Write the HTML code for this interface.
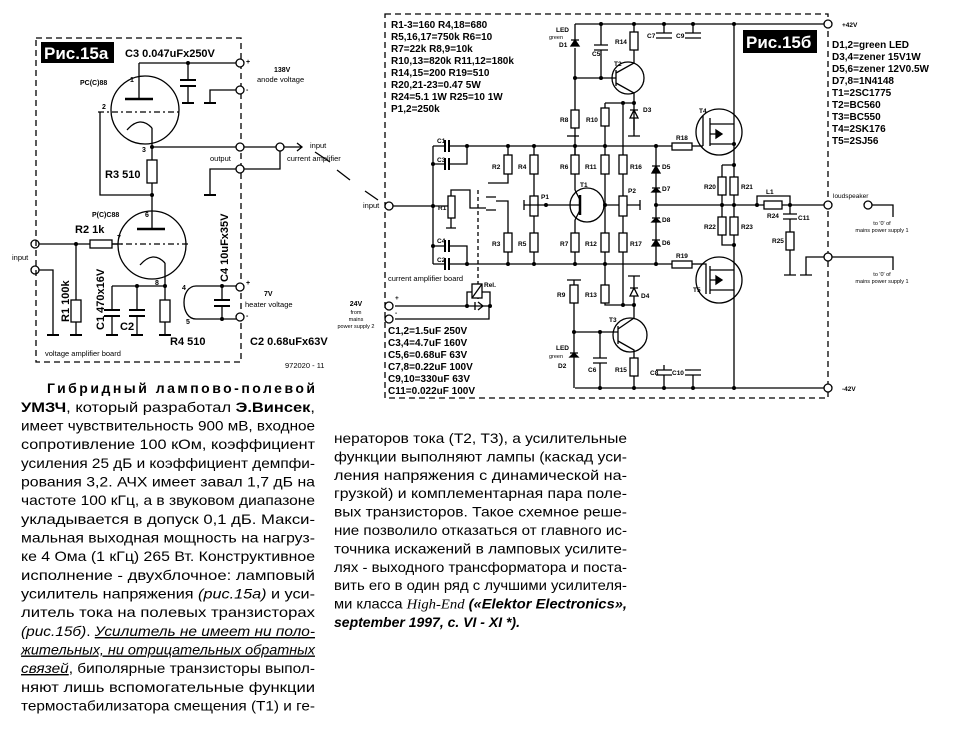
<!DOCTYPE html>
<html><head><meta charset="utf-8">
<style>
html,body{margin:0;padding:0;background:#fff;}
body{width:968px;height:742px;position:relative;overflow:hidden;}
svg{position:absolute;left:0;top:0;}
.t{font-family:"Liberation Sans",sans-serif;}
.b{font-family:"Liberation Sans",sans-serif;font-weight:bold;}
</style></head><body>
<svg width="968" height="742" viewBox="0 0 968 742" xmlns="http://www.w3.org/2000/svg" font-family="Liberation Sans, DejaVu Sans, sans-serif">
<g fill="none" stroke="#000" stroke-width="1.3">
<!-- ===== Fig 15a ===== -->
<rect x="36" y="38" width="205" height="324" stroke-dasharray="6,4"/>
<circle cx="145" cy="110" r="34"/>
<line x1="139" y1="63" x2="139" y2="99"/>
<line x1="125" y1="99" x2="153" y2="99" stroke-width="2.5"/>
<line x1="98" y1="112" x2="180" y2="112" stroke-dasharray="6,3,2,3"/>
<path d="M127 130 Q140 115 152 128"/>
<line x1="152" y1="128" x2="152" y2="195"/>
<line x1="139" y1="63" x2="236" y2="63"/>
<line x1="188" y1="63" x2="188" y2="80"/><line x1="180" y1="80" x2="196" y2="80" stroke-width="2"/><line x1="180" y1="86" x2="196" y2="86" stroke-width="2"/><line x1="188" y1="86" x2="188" y2="103"/><line x1="182" y1="103" x2="194" y2="103" stroke-width="2"/>
<path d="M236 90 H210 V103"/><line x1="204" y1="103" x2="216" y2="103" stroke-width="2"/>
<line x1="152" y1="147" x2="236" y2="147"/>
<rect x="147" y="160" width="10" height="23" fill="#fff"/>
<path d="M100 112 V195 H152"/>
<path d="M236 169 H210 V195"/><line x1="204" y1="195" x2="216" y2="195" stroke-width="2"/>
<path d="M244 147 H276"/><circle cx="280" cy="147" r="4"/><path d="M284 147 H302 M297 143 L302 147 L297 151"/>
<path d="M244 169 H280 V151"/>
<path d="M315 152 L330 162 M337 170 L350 180 M365 191 L378 200"/>
<line x1="152" y1="195" x2="152" y2="229"/>
<circle cx="152" cy="245" r="34"/>
<line x1="137" y1="229" x2="165" y2="229" stroke-width="2.5"/>
<line x1="112" y1="244" x2="190" y2="244" stroke-dasharray="6,3,2,3"/>
<path d="M140 265 Q153 250 165 263"/>
<line x1="165" y1="263" x2="165" y2="300"/>
<circle cx="35" cy="244" r="4"/><circle cx="35" cy="270" r="4"/>
<line x1="39" y1="244" x2="90" y2="244"/>
<rect x="90" y="240" width="22" height="8" fill="#fff"/>
<line x1="112" y1="244" x2="122" y2="244"/>
<line x1="76" y1="244" x2="76" y2="300"/><rect x="71" y="300" width="10" height="22" fill="#fff"/><line x1="76" y1="322" x2="76" y2="335"/>
<path d="M39 270 H53 V335"/>
<path d="M112 286 H165"/>
<line x1="112" y1="286" x2="112" y2="310"/><line x1="104" y1="310" x2="120" y2="310" stroke-width="2"/><path d="M104 316 H120" stroke-width="2"/><line x1="112" y1="316" x2="112" y2="335"/>
<line x1="137" y1="286" x2="137" y2="310"/><line x1="129" y1="310" x2="145" y2="310" stroke-width="2"/><line x1="129" y1="316" x2="145" y2="316" stroke-width="2"/><line x1="137" y1="316" x2="137" y2="335"/>
<rect x="160" y="300" width="10" height="22" fill="#fff"/><line x1="165" y1="322" x2="165" y2="335"/>
<g stroke-width="2"><path d="M47 335 H59 M70 335 H82 M106 335 H118 M131 335 H143 M159 335 H171"/></g>
<path d="M196 286 C180 286 180 319 196 319"/>
<path d="M196 286 H236 M196 319 H236"/>
<line x1="222" y1="286" x2="222" y2="300"/><line x1="214" y1="300" x2="230" y2="300" stroke-width="2"/><line x1="214" y1="306" x2="230" y2="306" stroke-width="2"/><line x1="222" y1="306" x2="222" y2="319"/>
<circle cx="240" cy="63" r="4" fill="#fff"/><circle cx="240" cy="90" r="4" fill="#fff"/><circle cx="240" cy="147" r="4" fill="#fff"/><circle cx="240" cy="169" r="4" fill="#fff"/><circle cx="240" cy="287" r="4" fill="#fff"/><circle cx="240" cy="317" r="4" fill="#fff"/>

<!-- ===== Fig 15b ===== -->
<rect x="385" y="14" width="443" height="384" stroke-dasharray="6,4"/>
<line x1="575" y1="24" x2="824" y2="24"/>
<line x1="575" y1="388" x2="824" y2="388"/>
<line x1="734" y1="24" x2="734" y2="388"/>
<line x1="389" y1="206" x2="433" y2="206"/>
<line x1="433" y1="146" x2="433" y2="264"/>
<path d="M433 146 H445 M449 146 H655"/><path d="M445 140 V152 M449 140 V152" stroke-width="2"/>
<path d="M433 164 H445 M449 164 H467 V146"/><path d="M445 158 V170 M449 158 V170" stroke-width="2"/>
<path d="M433 246 H445 M449 246 H467 V264"/><path d="M445 240 V252 M449 240 V252" stroke-width="2"/>
<path d="M433 264 H445 M449 264 H655"/><path d="M445 258 V270 M449 258 V270" stroke-width="2"/>
<path d="M433 206 H450"/><rect x="448" y="196" width="7" height="22" fill="#fff"/><path d="M451 218 V228 M446 228 H456"/>
<path d="M451 196 V190 H470 V208 H486"/><path d="M486 197 H496 M486 210 H496"/>
<path d="M508 146 V155"/><rect x="504" y="155" width="8" height="19" fill="#fff"/><path d="M508 174 V183 H488"/>
<path d="M496 201 H508 V233"/><rect x="504" y="233" width="8" height="19" fill="#fff"/><path d="M508 252 V264"/>
<path d="M478 190 V300" stroke-dasharray="4,3"/>
<line x1="534" y1="146" x2="534" y2="155"/><rect x="530" y="155" width="8" height="19" fill="#fff"/>
<line x1="534" y1="174" x2="534" y2="233"/><rect x="530" y="196" width="8" height="20" fill="#fff"/><path d="M524 205 H546 M524 200 V210"/>
<rect x="530" y="233" width="8" height="19" fill="#fff"/><line x1="534" y1="252" x2="534" y2="264"/>
<circle cx="587" cy="205" r="17"/>
<line x1="546" y1="205" x2="580" y2="205"/><line x1="580" y1="195" x2="580" y2="215" stroke-width="2.5"/>
<path d="M580 200 L575 190 M580 210 L575 220"/>
<path d="M575 146 V155"/><rect x="571" y="155" width="8" height="19" fill="#fff"/><path d="M575 174 V190"/>
<path d="M575 220 V233"/><rect x="571" y="233" width="8" height="19" fill="#fff"/><path d="M575 252 V264"/>
<path d="M605 146 V155"/><rect x="601" y="155" width="8" height="19" fill="#fff"/><path d="M605 174 V233"/><rect x="601" y="233" width="8" height="19" fill="#fff"/><path d="M605 252 V264"/>
<path d="M605 205 H640 M640 200 V210"/>
<path d="M623 105 V155"/><rect x="619" y="155" width="8" height="19" fill="#fff"/><path d="M623 174 V233"/><rect x="619" y="196" width="8" height="20" fill="#fff"/><rect x="619" y="233" width="8" height="19" fill="#fff"/><path d="M623 252 V305"/>
<path d="M656 146 V264"/>
<path d="M652 166 H660 M652 173 L656 166 L660 173 Z M652 188 H660 M652 192 L656 188 L660 192Z M652 218 H660 M652 222 L656 218 L660 222Z M652 240 H660 M652 246 L656 240 L660 246Z" fill="#000"/>
<path d="M656 205 H824"/>
<path d="M655 146 H672"/><rect x="672" y="143" width="20" height="7" fill="#fff"/><path d="M692 146 H703"/>
<path d="M655 264 H672"/><rect x="672" y="261" width="20" height="7" fill="#fff"/><path d="M692 264 H703"/>
<circle cx="719" cy="132" r="23"/>
<path d="M703 146 V116 M710 118 V146 M710 124 H734 M710 144 H734 M710 134 H722"/>
<path d="M716 130 L722 134 L716 138 Z" fill="#000"/>
<circle cx="719" cy="280" r="23"/>
<path d="M703 264 H706 V294 M710 266 V294 M710 270 H734 M710 290 H734 M710 280 H722"/>
<path d="M716 276 L722 280 L716 284 Z" fill="#000"/>
<path d="M722 165 H734 M722 165 V177 M722 195 V217 M722 235 V245 H734"/>
<rect x="718" y="177" width="8" height="18" fill="#fff"/><rect x="730" y="177" width="8" height="18" fill="#fff"/>
<rect x="718" y="217" width="8" height="18" fill="#fff"/><rect x="730" y="217" width="8" height="18" fill="#fff"/>
<path d="M757 205 V196 H790 V205"/><rect x="764" y="201" width="18" height="8" fill="#fff"/>
<path d="M790 205 V214 M783 214 H797 M783 219 H797 M790 219 V232"/><rect x="786" y="232" width="8" height="18" fill="#fff"/><path d="M790 250 V275 M784 275 H796"/>
<path d="M824 257 H806 V275 M800 275 H812"/>
<path d="M872 205 H893 V217 M832 257 H893 V270"/>
<path d="M575 24 V40 M575 48 V155"/><path d="M571 40 H579 M571 46 L575 40 L579 46 Z" fill="#000"/>
<path d="M601 24 V45 M594 45 H608 M594 50 H608 M601 50 V78"/>
<path d="M575 78 H616"/>
<circle cx="628" cy="78" r="16"/><path d="M616 70 V86 M616 73 L634 63 V24 M616 83 L634 93 V103 M634 103 V130"/>
<rect x="630" y="32" width="8" height="18" fill="#fff"/>
<path d="M605 103 H634 M605 103 V108"/><rect x="601" y="108" width="8" height="18" fill="#fff"/><path d="M605 126 V146"/>
<path d="M630 110 H638 M630 118 L634 110 L638 118 Z M634 118 V136 M628 136 H640"/>
<rect x="571" y="110" width="8" height="18" fill="#fff"/><path d="M567 136 H579"/>
<path d="M664 24 V33 M656 33 H672 M656 38 H672 M693 24 V33 M685 33 H701 M685 38 H701"/>
<path d="M567 280 H581 M574 280 V285"/><rect x="570" y="285" width="8" height="18" fill="#fff"/><path d="M574 303 V388"/>
<path d="M570 353 H578 M570 357 L574 353 L578 357Z" fill="#000"/>
<path d="M574 332 H618"/>
<path d="M600 332 V358 M593 358 H607 M593 363 H607 M600 363 V388"/>
<circle cx="630" cy="335" r="17"/><path d="M618 326 V344 M618 329 L634 318 V305 M618 341 L634 350 V358"/>
<path d="M605 264 V285"/><rect x="601" y="285" width="8" height="18" fill="#fff"/><path d="M605 303 V305 H634"/>
<path d="M628 276 H640 M634 276 V288 M630 288 H638 M630 296 L634 288 L638 296 Z M634 296 V305"/>
<rect x="630" y="358" width="8" height="18" fill="#fff"/><path d="M634 376 V388"/>
<path d="M664 388 V375 M656 375 H672 M656 370 H672 M664 370 V365 M693 388 V375 M685 375 H701 M685 370 H701"/>
<path d="M395 306 H478 H490 M395 319 H489 V306"/>
<path d="M467 306 V292 H490 V306"/><rect x="472" y="284" width="10" height="14" fill="#fff"/><path d="M472 298 L482 284"/>
<path d="M475 302 V310 M478 302 L483 306 L478 310"/>
<circle cx="389" cy="206" r="4" fill="#fff"/><circle cx="389" cy="306" r="4" fill="#fff"/><circle cx="389" cy="319" r="4" fill="#fff"/>
<circle cx="828" cy="24" r="4" fill="#fff"/><circle cx="828" cy="205" r="4" fill="#fff"/><circle cx="828" cy="257" r="4" fill="#fff"/><circle cx="828" cy="388" r="4" fill="#fff"/><circle cx="868" cy="205" r="4" fill="#fff"/>
</g>
<g fill="#000" stroke="none">
<circle cx="188" cy="63" r="2"/><circle cx="152" cy="147" r="2"/><circle cx="152" cy="195" r="2"/><circle cx="76" cy="244" r="2"/><circle cx="137" cy="286" r="2"/><circle cx="165" cy="286" r="2"/><circle cx="222" cy="286" r="2"/><circle cx="222" cy="319" r="2"/>
<circle cx="433" cy="206" r="2"/><circle cx="433" cy="164" r="2"/><circle cx="433" cy="246" r="2"/><circle cx="467" cy="146" r="2"/><circle cx="467" cy="264" r="2"/>
<circle cx="508" cy="146" r="2"/><circle cx="534" cy="146" r="2"/><circle cx="575" cy="146" r="2"/><circle cx="605" cy="146" r="2"/><circle cx="656" cy="146" r="2"/>
<circle cx="508" cy="264" r="2"/><circle cx="534" cy="264" r="2"/><circle cx="575" cy="264" r="2"/><circle cx="605" cy="264" r="2"/><circle cx="656" cy="264" r="2"/>
<circle cx="605" cy="205" r="2"/><circle cx="656" cy="205" r="2"/><circle cx="546" cy="205" r="2"/>
<circle cx="601" cy="24" r="2"/><circle cx="634" cy="24" r="2"/><circle cx="664" cy="24" r="2"/><circle cx="693" cy="24" r="2"/><circle cx="734" cy="24" r="2"/>
<circle cx="575" cy="78" r="2"/><circle cx="601" cy="78" r="2"/><circle cx="634" cy="103" r="2"/><circle cx="623" cy="103" r="2"/>
<circle cx="734" cy="144" r="2"/><circle cx="734" cy="165" r="2"/><circle cx="722" cy="205" r="2"/><circle cx="734" cy="205" r="2"/><circle cx="757" cy="205" r="2"/><circle cx="790" cy="205" r="2"/><circle cx="734" cy="245" r="2"/>
<circle cx="623" cy="305" r="2"/><circle cx="634" cy="305" r="2"/><circle cx="574" cy="332" r="2"/><circle cx="600" cy="332" r="2"/>
<circle cx="600" cy="388" r="2"/><circle cx="634" cy="388" r="2"/><circle cx="664" cy="388" r="2"/><circle cx="693" cy="388" r="2"/><circle cx="734" cy="388" r="2"/>
<circle cx="467" cy="306" r="2"/><circle cx="490" cy="306" r="2"/>
</g>

<rect x="41" y="42" width="73" height="21" fill="#000"/>
<text x="44" y="59" class="b" font-size="17" fill="#fff">Рис.15а</text>
<rect x="743" y="30" width="74" height="23" fill="#000"/>
<text x="746" y="48" class="b" font-size="17" fill="#fff">Рис.15б</text>

<g class="b" font-size="11" fill="#000">
<text x="125" y="57">C3 0.047uFx250V</text>
<text x="105" y="178">R3 510</text>
<text x="75" y="233">R2 1k</text>
<text x="170" y="345">R4 510</text>
<text x="120" y="330">C2</text>
<text x="250" y="345">C2 0.68uFx63V</text>
<text transform="translate(69,322) rotate(-90)">R1 100k</text>
<text transform="translate(104,330) rotate(-90)">C1 470x16V</text>
<text transform="translate(228,282) rotate(-90)">C4 10uFx35V</text>
</g>
<g class="b" font-size="7" fill="#000">
<text x="80" y="85">PC(C)88</text><text x="92" y="217">P(C)C88</text>
<text x="130" y="82">1</text><text x="102" y="109">2</text><text x="142" y="152">3</text><text x="145" y="217">6</text><text x="117" y="240">7</text><text x="155" y="285">8</text><text x="182" y="290">4</text><text x="186" y="324">5</text>
<text x="274" y="72">138V</text><text x="264" y="296">7V</text><text x="246" y="64">+</text><text x="246" y="92">-</text><text x="246" y="285">+</text><text x="246" y="318">-</text>
</g>
<g class="t" font-size="7.5" fill="#000">
<text x="257" y="82">anode voltage</text>
<text x="210" y="161">output</text>
<text x="310" y="148">input</text><text x="287" y="161">current amplifier</text>
<text x="12" y="260">input</text>
<text x="245" y="307">heater voltage</text>
<text x="45" y="356">voltage amplifier board</text>
<text x="285" y="368">972020 - 11</text>
<text x="363" y="208">input</text>
<text x="388" y="281">current amplifier board</text>
</g>
<g class="t" font-size="5.5" fill="#000" text-anchor="middle">
<text x="356" y="306" font-weight="bold" font-size="7">24V</text><text x="356" y="314">from</text><text x="356" y="321">mains</text><text x="356" y="328">power supply 2</text>
<text x="882" y="225">to '0' of</text><text x="882" y="232">mains power supply 1</text>
<text x="882" y="276">to '0' of</text><text x="882" y="283">mains power supply 1</text>
<text x="556" y="39">green</text><text x="556" y="358">green</text>
</g>
<g class="t" font-size="6.5" fill="#000"><text x="833" y="198">loudspeaker</text></g>
<g class="b" font-size="10" fill="#000">
<text x="391" y="28">R1-3=160  R4,18=680</text>
<text x="391" y="40">R5,16,17=750k  R6=10</text>
<text x="391" y="52">R7=22k  R8,9=10k</text>
<text x="391" y="64">R10,13=820k  R11,12=180k</text>
<text x="391" y="76">R14,15=200  R19=510</text>
<text x="391" y="88">R20,21-23=0.47 5W</text>
<text x="391" y="100">R24=5.1 1W R25=10 1W</text>
<text x="391" y="112">P1,2=250k</text>
<text x="388" y="334">C1,2=1.5uF 250V</text>
<text x="388" y="346">C3,4=4.7uF 160V</text>
<text x="388" y="358">C5,6=0.68uF 63V</text>
<text x="388" y="370">C7,8=0.22uF 100V</text>
<text x="388" y="382">C9,10=330uF 63V</text>
<text x="388" y="394">C11=0.022uF 100V</text>
<text x="832" y="48">D1,2=green LED</text>
<text x="832" y="60">D3,4=zener 15V1W</text>
<text x="832" y="72">D5,6=zener 12V0.5W</text>
<text x="832" y="84">D7,8=1N4148</text>
<text x="832" y="96">T1=2SC1775</text>
<text x="832" y="108">T2=BC560</text>
<text x="832" y="120">T3=BC550</text>
<text x="832" y="132">T4=2SK176</text>
<text x="832" y="144">T5=2SJ56</text>
</g>
<g class="b" font-size="6.5" fill="#000">
<text x="842" y="27">+42V</text><text x="842" y="391">-42V</text>
<text x="437" y="143">C1</text><text x="437" y="162">C3</text><text x="437" y="243">C4</text><text x="437" y="262">C2</text>
<text x="438" y="210">R1</text><text x="492" y="169">R2</text><text x="492" y="246">R3</text><text x="518" y="169">R4</text><text x="518" y="246">R5</text>
<text x="560" y="169">R6</text><text x="560" y="246">R7</text><text x="585" y="169">R11</text><text x="585" y="246">R12</text><text x="630" y="169">R16</text><text x="630" y="246">R17</text>
<text x="541" y="199">P1</text><text x="628" y="193">P2</text><text x="580" y="187">T1</text>
<text x="662" y="169">D5</text><text x="662" y="191">D7</text><text x="662" y="222">D8</text><text x="662" y="245">D6</text>
<text x="676" y="140">R18</text><text x="676" y="258">R19</text><text x="699" y="113">T4</text><text x="693" y="292">T5</text>
<text x="704" y="189">R20</text><text x="741" y="189">R21</text><text x="704" y="229">R22</text><text x="741" y="229">R23</text>
<text x="766" y="194">L1</text><text x="767" y="218">R24</text><text x="798" y="220">C11</text><text x="772" y="243">R25</text>
<text x="556" y="32">LED</text><text x="559" y="47">D1</text><text x="592" y="56">C5</text><text x="615" y="44">R14</text><text x="614" y="66">T2</text><text x="643" y="112">D3</text><text x="560" y="122">R8</text><text x="586" y="122">R10</text>
<text x="647" y="38">C7</text><text x="676" y="38">C9</text>
<text x="557" y="297">R9</text><text x="585" y="297">R13</text><text x="641" y="298">D4</text><text x="609" y="322">T3</text>
<text x="556" y="350">LED</text><text x="558" y="368">D2</text><text x="588" y="372">C6</text><text x="615" y="372">R15</text><text x="650" y="375">C8</text><text x="672" y="375">C10</text>
<text x="484" y="287">Rel.</text><text x="395" y="300">+</text><text x="395" y="315">-</text>
</g>

<!-- article text -->
<g class="t" font-size="14" fill="#000">
<text x="47" y="393" textLength="268" lengthAdjust="spacing" font-weight="bold">Гибридный лампово-полевой</text>
<text x="21" y="412" textLength="294" lengthAdjust="spacingAndGlyphs"><tspan font-weight="bold">УМЗЧ</tspan>, который разработал <tspan font-weight="bold">Э.Винсек</tspan>,</text>
<text x="21" y="430.5" textLength="294" lengthAdjust="spacingAndGlyphs">имеет чувствительность 900 мВ, входное</text>
<text x="21" y="449" textLength="294" lengthAdjust="spacingAndGlyphs">сопротивление 100 кОм, коэффициент</text>
<text x="21" y="468" textLength="294" lengthAdjust="spacingAndGlyphs">усиления 25 дБ и коэффициент демпфи-</text>
<text x="21" y="486.5" textLength="294" lengthAdjust="spacingAndGlyphs">рования 3,2. АЧХ имеет завал 1,7 дБ на</text>
<text x="21" y="505" textLength="294" lengthAdjust="spacingAndGlyphs">частоте 100 кГц, а в звуковом диапазоне</text>
<text x="21" y="524" textLength="294" lengthAdjust="spacingAndGlyphs">укладывается в допуск 0,1 дБ. Макси-</text>
<text x="21" y="542.5" textLength="294" lengthAdjust="spacingAndGlyphs">мальная выходная мощность на нагруз-</text>
<text x="21" y="561" textLength="294" lengthAdjust="spacingAndGlyphs">ке 4 Ома (1 кГц) 265 Вт. Конструктивное</text>
<text x="21" y="580" textLength="294" lengthAdjust="spacingAndGlyphs">исполнение - двухблочное: ламповый</text>
<text x="21" y="598.5" textLength="294" lengthAdjust="spacingAndGlyphs">усилитель напряжения <tspan font-style="italic">(рис.15а)</tspan> и уси-</text>
<text x="21" y="617" textLength="294" lengthAdjust="spacingAndGlyphs">литель тока на полевых транзисторах</text>
<text x="21" y="636" textLength="294" lengthAdjust="spacingAndGlyphs"><tspan font-style="italic">(рис.15б)</tspan>. <tspan font-style="italic" text-decoration="underline">Усилитель не имеет ни поло-</tspan></text>
<text x="21" y="654.5" textLength="294" lengthAdjust="spacingAndGlyphs" font-style="italic" text-decoration="underline">жительных, ни отрицательных обратных</text>
<text x="21" y="673" textLength="294" lengthAdjust="spacingAndGlyphs"><tspan font-style="italic" text-decoration="underline">связей</tspan>, биполярные транзисторы выпол-</text>
<text x="21" y="692" textLength="294" lengthAdjust="spacingAndGlyphs">няют лишь вспомогательные функции</text>
<text x="21" y="710.5" textLength="294" lengthAdjust="spacingAndGlyphs">термостабилизатора смещения (Т1) и ге-</text>
</g>
<g class="t" font-size="14" fill="#000">
<text x="334" y="443" textLength="293" lengthAdjust="spacingAndGlyphs">нераторов тока (Т2, Т3), а усилительные</text>
<text x="334" y="461.4" textLength="293" lengthAdjust="spacingAndGlyphs">функции выполняют лампы (каскад уси-</text>
<text x="334" y="479.8" textLength="293" lengthAdjust="spacingAndGlyphs">ления напряжения с динамической на-</text>
<text x="334" y="498.2" textLength="293" lengthAdjust="spacingAndGlyphs">грузкой) и комплементарная пара поле-</text>
<text x="334" y="516.6" textLength="293" lengthAdjust="spacingAndGlyphs">вых транзисторов. Такое схемное реше-</text>
<text x="334" y="535" textLength="293" lengthAdjust="spacingAndGlyphs">ние позволило отказаться от главного ис-</text>
<text x="334" y="553.4" textLength="293" lengthAdjust="spacingAndGlyphs">точника искажений в ламповых усилите-</text>
<text x="334" y="571.8" textLength="293" lengthAdjust="spacingAndGlyphs">лях - выходного трансформатора и поста-</text>
<text x="334" y="590.2" textLength="293" lengthAdjust="spacingAndGlyphs">вить его в один ряд с лучшими усилителя-</text>
<text x="334" y="608.6" textLength="293" lengthAdjust="spacingAndGlyphs">ми класса <tspan font-family="Liberation Serif" font-style="italic">High-End</tspan> <tspan font-weight="bold" font-style="italic">(«Elektor Electronics»,</tspan></text>
<text x="334" y="627" font-weight="bold" font-style="italic">september 1997, с. VI - XI *).</text>
</g>
</svg>
</body></html>
